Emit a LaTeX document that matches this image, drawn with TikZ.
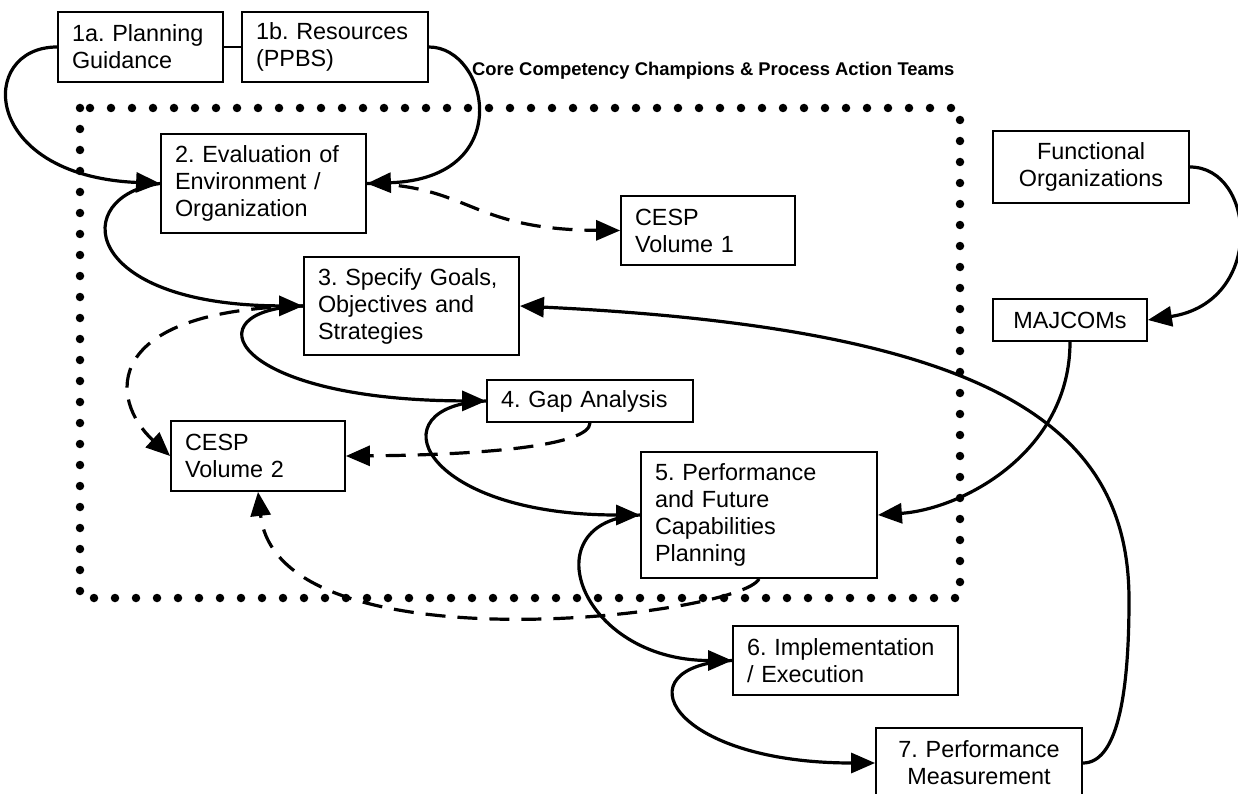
\documentclass[tikz,border=0pt]{standalone}
\usepackage{fontspec}
\setmainfont{Liberation Sans}
\usepackage{tikz}
\usetikzlibrary{arrows.meta}
\frenchspacing

\begin{document}
\begin{tikzpicture}[x=1pt, y=-1pt,
    box/.style={draw, line width=1.8pt, rectangle, inner xsep=14pt, inner ysep=0pt,
      align=left, font=\fontsize{23.4}{27}\selectfont},
    flow/.style={line width=3.2pt, -{Triangle[length=24pt,width=20pt]}},
    doc/.style={flow, dash pattern=on 20pt off 12pt}]
    \useasboundingbox (0,0) rectangle (1238,794);
    \draw[line width=8.5pt, line cap=round, dash pattern=on 0pt off 21pt] (80,108) rectangle (960,598);

    \node[box, text width=137pt, minimum height=70pt] (pg) at (140.5,47) {1a. Planning\\Guidance};
    \node[box, text width=158pt, minimum height=70pt] (res) at (335,47) {1b. Resources\\(PPBS)};
    \node[box, text width=177pt, minimum height=99pt] (env) at (263.5,183.5) {2. Evaluation of\\Environment /\\Organization};
    \node[box, text width=146pt, minimum height=69pt] (cesp1) at (708,230.5) {CESP\\Volume 1};
    \node[box, text width=187pt, minimum height=98pt] (goals) at (411.5,306) {3. Specify Goals,\\Objectives and\\Strategies};
    \node[box, text width=178pt, minimum height=42pt] (gap) at (590,401) {4. Gap Analysis};
    \node[box, text width=146pt, minimum height=70pt] (cesp2) at (258,456) {CESP\\Volume 2};
    \node[box, text width=208pt, minimum height=126pt] (perf) at (759,515) {5. Performance\\and Future\\Capabilities\\Planning};
    \node[box, text width=197pt, minimum height=69pt] (impl) at (845.5,660.5) {6. Implementation\\/ Execution};
    \node[box, text width=178pt, minimum height=70pt, align=center] (meas) at (979,763) {7. Performance\\Measurement};
    \node[box, text width=168pt, minimum height=72pt, align=center] (func) at (1091,167) {Functional\\Organizations};
    \node[box, text width=126pt, minimum height=42pt, align=center] (majcom) at (1070,320) {MAJCOMs};
    \node[anchor=west, inner sep=0pt, font=\bfseries\fontsize{18.4}{20}\selectfont] (cct) at (472,71)
      {Core Competency Champions \& Process Action Teams};

    % planning chain
    \draw[line width=1.8pt] (pg) -- (res);
    \draw[flow] (pg.west) .. controls +(-80,0) and +(-180,-8) .. (env.west);
    \draw[flow] (res.east) .. controls +(60,0) and +(150,-5) .. (env.east);
    \draw[flow] (env.west) .. controls +(-91,12) and +(-224,-1) .. (goals.west);
    \draw[flow] (goals.west) .. controls +(-114,3) and +(-257,-1) .. (gap.west);
    \draw[flow] (gap.west) .. controls +(-112,4) and +(-221,0) .. (perf.west);
    \draw[flow] (perf.west) .. controls +(-111,5) and +(-153,0) .. (impl.west);
    \draw[flow] (impl.west) .. controls +(-113,5) and +(-206,0) .. (meas.west);
    \draw[flow] (func.east) .. controls +(66,0) and +(118,-18) .. (majcom.east);
    \draw[flow] (majcom.south) .. controls +(0,110) and +(85,-6) .. (perf.east);
    \draw[flow] (meas.east) .. controls +(33,0) and +(0,100) .. (1129,600)
      .. controls +(0,-170) and +(481,23) .. (goals.east);

    % documents
    \draw[doc] (env.east) .. controls +(104,2) and +(-151,-1) .. (cesp1.west);
    \draw[doc] (goals.west) .. controls +(-204,4) and +(-61,-56) .. (cesp2.west);
    \draw[doc] (gap.south) .. controls +(0,23) and +(135,-1) .. (cesp2.east);
    \draw[doc] (perf.south) .. controls +(-19,37) and +(20,179) .. (cesp2.south);
\end{tikzpicture}
\end{document}
